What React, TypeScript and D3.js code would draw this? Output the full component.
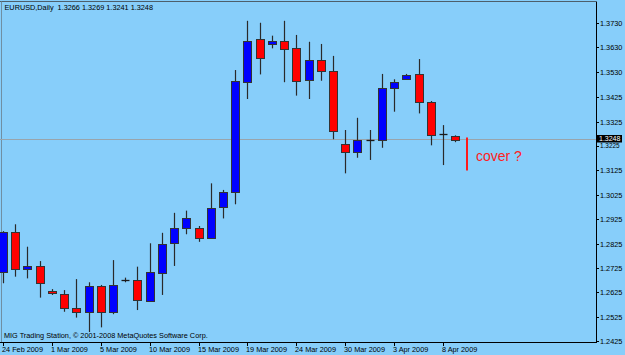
import React, { useEffect } from "react";
import * as d3 from "d3";

// ---- data ----
const dates = [
  "2009-02-24", "2009-02-25", "2009-02-26", "2009-02-27", "2009-03-01", "2009-03-02",
  "2009-03-03", "2009-03-04", "2009-03-05", "2009-03-06", "2009-03-08", "2009-03-09",
  "2009-03-10", "2009-03-11", "2009-03-12", "2009-03-13", "2009-03-15", "2009-03-16",
  "2009-03-17", "2009-03-18", "2009-03-19", "2009-03-20", "2009-03-22", "2009-03-23",
  "2009-03-24", "2009-03-25", "2009-03-26", "2009-03-27", "2009-03-30", "2009-03-31",
  "2009-04-01", "2009-04-02", "2009-04-03", "2009-04-05", "2009-04-06", "2009-04-07",
  "2009-04-08", "2009-04-09",
];
const opens = [
  1.2709, 1.2871, 1.2720, 1.2734, 1.2630, 1.2617, 1.2562, 1.2543, 1.2652, 1.2543,
  1.2674, 1.2675, 1.2589, 1.2705, 1.2826, 1.2890, 1.2890, 1.2849, 1.2974, 1.3036,
  1.3489, 1.3664, 1.3643, 1.3657, 1.3626, 1.3496, 1.3578, 1.3533, 1.3232, 1.3199,
  1.3250, 1.3250, 1.3464, 1.3500, 1.3519, 1.3405, 1.3273, 1.3266,
];
const highs = [
  1.2876, 1.2904, 1.2812, 1.2753, 1.2638, 1.2634, 1.2679, 1.2666, 1.2655, 1.2757,
  1.2685, 1.2730, 1.2826, 1.2869, 1.2951, 1.2960, 1.2897, 1.3072, 1.3045, 1.3537,
  1.3739, 1.3731, 1.3678, 1.3739, 1.3681, 1.3653, 1.3644, 1.3595, 1.3291, 1.3341,
  1.3291, 1.3521, 1.3499, 1.3521, 1.3582, 1.3410, 1.3311, 1.3269,
];
const lows = [
  1.2662, 1.2689, 1.2682, 1.2603, 1.2614, 1.2545, 1.2521, 1.2462, 1.2481, 1.2535,
  1.2666, 1.2552, 1.2587, 1.2614, 1.2733, 1.2863, 1.2832, 1.2847, 1.2928, 1.2986,
  1.3418, 1.3519, 1.3626, 1.3487, 1.3432, 1.3418, 1.3493, 1.3253, 1.3113, 1.3177,
  1.3168, 1.3218, 1.3366, 1.3497, 1.3359, 1.3228, 1.3147, 1.3241,
];
const closes = [
  1.2871, 1.2720, 1.2734, 1.2662, 1.2621, 1.2562, 1.2543, 1.2652, 1.2543, 1.2655,
  1.2675, 1.2593, 1.2707, 1.2823, 1.2887, 1.2931, 1.2849, 1.2972, 1.3038, 1.3492,
  1.3657, 1.3585, 1.3657, 1.3622, 1.3493, 1.3578, 1.3534, 1.3287, 1.3199, 1.3250,
  1.3250, 1.3462, 1.3489, 1.3517, 1.3405, 1.3269, 1.3273, 1.3248,
];
const priceTickLabels = [
  "1.3730", "1.3630", "1.3530", "1.3425", "1.3325", "1.3225", "1.3125",
  "1.3025", "1.2925", "1.2825", "1.2725", "1.2625", "1.2525", "1.2425",
];
const symbol = "EURUSD,Daily";
const copyright = "MIG Trading Station, \u00A9 2001-2008 MetaQuotes Software Corp.";
const annotation = "cover ?";
const dateLabelEvery = 4;

// ---- styling ----
const W = 625;
const H = 355;
const BG = "#87CEFA";
const FONT = "'Liberation Sans', Arial, sans-serif";
const FS = 7.3;

export default function App() {
  useEffect(() => {
    document.body.style.margin = "0";
  }, []);

  const plotRight = 596;
  const plotBottom = 342;

  const x = d3.scaleLinear().domain([0, 36]).range([3, 443]);
  const y = d3.scaleLinear().domain([1.2425, 1.3730]).range([341, 23]);

  const parse = d3.timeParse("%Y-%m-%d");
  const fmt = d3.timeFormat("%-d %b %Y");

  const last = closes.length - 1;
  const lastClose = closes[last];
  const title = `${symbol}  ${opens[last].toFixed(4)} ${highs[last].toFixed(4)} ${lows[last].toFixed(4)} ${lastClose.toFixed(4)}`;

  const yLast = Math.round(y(lastClose)) - 0.5;
  const boxTop = yLast - 4.5;
  const boxH = 7.5;

  return (
    <svg width={W} height={H} style={{ position: "absolute", left: 0, top: 0, display: "block" }}>
      <rect x={0} y={0} width={W} height={H} fill={BG} />
      {/* frame */}
      <line x1={0} x2={plotRight} y1={1.5} y2={1.5} stroke="#4d5f6b" strokeWidth={1} />
      <line x1={1.5} x2={1.5} y1={1.5} y2={plotBottom} stroke="#6f8fa3" strokeWidth={1} />
      <line x1={plotRight + 0.5} x2={plotRight + 0.5} y1={1.5} y2={plotBottom + 0.5} stroke="#000" strokeWidth={1} />
      <line x1={0} x2={plotRight + 1} y1={plotBottom + 0.5} y2={plotBottom + 0.5} stroke="#000" strokeWidth={1} />

      {/* current price line */}
      <line x1={0} x2={plotRight} y1={yLast} y2={yLast} stroke="#98a4ac" strokeWidth={1} />

      {/* candles */}
      <defs>
        <clipPath id="plotclip">
          <rect x={0} y={2} width={plotRight} height={plotBottom - 2} />
        </clipPath>
      </defs>
      <g clipPath="url(#plotclip)">
        {dates.map((d, i) => {
          const cx = Math.round(x(i)) + 0.5;
          const o = opens[i];
          const c = closes[i];
          const yo = y(o);
          const yc = y(c);
          const top = Math.round(Math.min(yo, yc)) + 0.5;
          const bot = Math.round(Math.max(yo, yc)) + 0.5;
          const bull = c >= o;
          const doji = Math.abs(yo - yc) < 1.5;
          return (
            <g key={d}>
              <line x1={cx} x2={cx} y1={y(highs[i])} y2={y(lows[i])} stroke="#2a2a2a" strokeWidth={1.2} />
              {doji ? (
                <line x1={cx - 4} x2={cx + 4} y1={top} y2={top} stroke="#1a1a1a" strokeWidth={1.3} />
              ) : (
                <rect
                  x={cx - 4}
                  y={top}
                  width={8}
                  height={bot - top}
                  fill={bull ? "#0000ff" : "#ff0000"}
                  stroke="#333"
                  strokeWidth={1}
                />
              )}
            </g>
          );
        })}
      </g>

      {/* price axis */}
      {priceTickLabels.map((t) => {
        const yy = Math.round(y(parseFloat(t))) + 0.5;
        const near = Math.abs(yy - yLast) < 9;
        return (
          <g key={t}>
            <line x1={plotRight} x2={plotRight + 3} y1={yy} y2={yy} stroke="#000" strokeWidth={1} />
            <text
              x={600}
              y={near ? boxTop + boxH + 5.6 : yy}
              dy={near ? "0" : "0.35em"}
              fontFamily={FONT}
              fontSize={near ? 6.4 : FS}
              fill="#000"
            >
              {t}
            </text>
          </g>
        );
      })}
      <rect x={597} y={boxTop} width={25} height={boxH} fill="#000" />
      <text x={599} y={boxTop + boxH / 2} dy="0.35em" fontFamily={FONT} fontSize={7} fill="#fff">
        {lastClose.toFixed(4)}
      </text>

      {/* date axis */}
      {dates.map((d, i) => {
        if (i % dateLabelEvery !== 0) return null;
        const xx = Math.round(x(i)) + 0.5;
        return (
          <g key={"t" + d}>
            <line x1={xx} x2={xx} y1={plotBottom} y2={plotBottom + 4} stroke="#000" strokeWidth={1} />
            <text x={xx - 1.5} y={352} fontFamily={FONT} fontSize={FS} fill="#000">
              {fmt(parse(d) as Date)}
            </text>
          </g>
        );
      })}

      {/* title & copyright */}
      <text x={4.5} y={9.5} fontFamily={FONT} fontSize={FS} fill="#000" style={{ whiteSpace: "pre" }}>
        {title}
      </text>
      <text x={4} y={338} fontFamily={FONT} fontSize={FS} fill="#000">
        {copyright}
      </text>

      {/* annotation */}
      <line x1={467} x2={467} y1={y(1.3260)} y2={y(1.3125)} stroke="#ff1a1a" strokeWidth={2} />
      <text x={476} y={161} fontFamily={FONT} fontSize={14} fill="#ff2020">
        {annotation}
      </text>
    </svg>
  );
}
